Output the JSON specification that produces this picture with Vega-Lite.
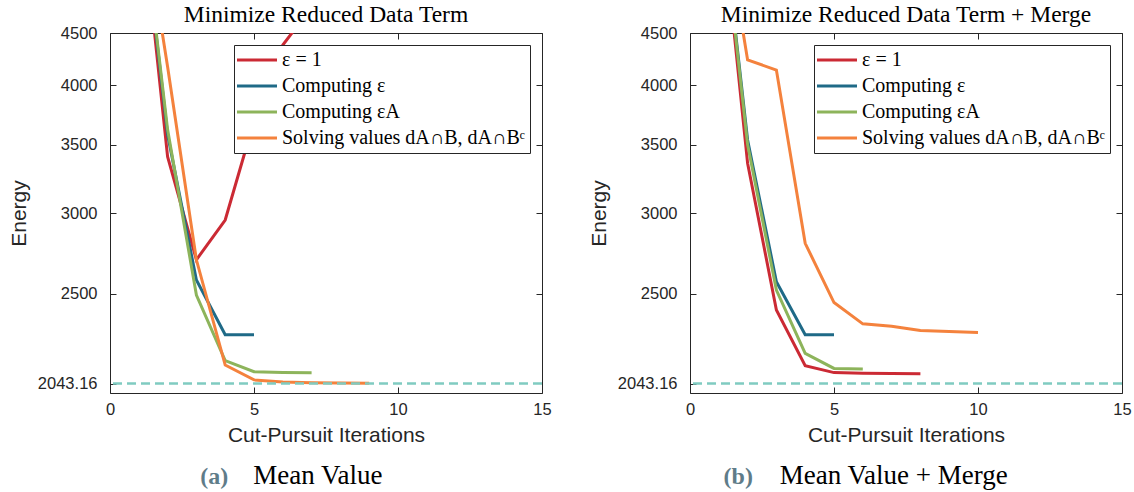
{
  "$schema": "https://vega.github.io/schema/vega-lite/v6.json",
  "padding": {"left": 7, "right": 0, "top": 2, "bottom": 2},
  "spacing": 35,
  "datasets": {
    "lines": [
      {"panel": "a", "series": "ε = 1", "x": 1, "E": 6300},
      {"panel": "a", "series": "ε = 1", "x": 2, "E": 3406},
      {"panel": "a", "series": "ε = 1", "x": 3, "E": 2700},
      {"panel": "a", "series": "ε = 1", "x": 4, "E": 2953},
      {"panel": "a", "series": "ε = 1", "x": 5, "E": 3690},
      {"panel": "a", "series": "ε = 1", "x": 6, "E": 4380},
      {"panel": "a", "series": "ε = 1", "x": 7, "E": 4770},
      {"panel": "a", "series": "Computing ε", "x": 1, "E": 6300},
      {"panel": "a", "series": "Computing ε", "x": 2, "E": 3580},
      {"panel": "a", "series": "Computing ε", "x": 3, "E": 2580},
      {"panel": "a", "series": "Computing ε", "x": 4, "E": 2281},
      {"panel": "a", "series": "Computing ε", "x": 5, "E": 2281},
      {"panel": "a", "series": "Computing εA", "x": 1, "E": 6300},
      {"panel": "a", "series": "Computing εA", "x": 2, "E": 3620},
      {"panel": "a", "series": "Computing εA", "x": 3, "E": 2494},
      {"panel": "a", "series": "Computing εA", "x": 4, "E": 2151},
      {"panel": "a", "series": "Computing εA", "x": 5, "E": 2098},
      {"panel": "a", "series": "Computing εA", "x": 6, "E": 2094},
      {"panel": "a", "series": "Computing εA", "x": 7, "E": 2093},
      {"panel": "a", "series": "Solving values dA∩B, dA∩Bᶜ", "x": 1, "E": 6300},
      {"panel": "a", "series": "Solving values dA∩B, dA∩Bᶜ", "x": 2, "E": 4170},
      {"panel": "a", "series": "Solving values dA∩B, dA∩Bᶜ", "x": 3, "E": 2700},
      {"panel": "a", "series": "Solving values dA∩B, dA∩Bᶜ", "x": 4, "E": 2130},
      {"panel": "a", "series": "Solving values dA∩B, dA∩Bᶜ", "x": 5, "E": 2060},
      {"panel": "a", "series": "Solving values dA∩B, dA∩Bᶜ", "x": 6, "E": 2050},
      {"panel": "a", "series": "Solving values dA∩B, dA∩Bᶜ", "x": 7, "E": 2047},
      {"panel": "a", "series": "Solving values dA∩B, dA∩Bᶜ", "x": 8, "E": 2045},
      {"panel": "a", "series": "Solving values dA∩B, dA∩Bᶜ", "x": 9, "E": 2044},
      {"panel": "b", "series": "ε = 1", "x": 1, "E": 6300},
      {"panel": "b", "series": "ε = 1", "x": 2, "E": 3356},
      {"panel": "b", "series": "ε = 1", "x": 3, "E": 2411},
      {"panel": "b", "series": "ε = 1", "x": 4, "E": 2127},
      {"panel": "b", "series": "ε = 1", "x": 5, "E": 2094},
      {"panel": "b", "series": "ε = 1", "x": 6, "E": 2091},
      {"panel": "b", "series": "ε = 1", "x": 7, "E": 2090},
      {"panel": "b", "series": "ε = 1", "x": 8, "E": 2089},
      {"panel": "b", "series": "Computing ε", "x": 1, "E": 6300},
      {"panel": "b", "series": "Computing ε", "x": 2, "E": 3536},
      {"panel": "b", "series": "Computing ε", "x": 3, "E": 2570},
      {"panel": "b", "series": "Computing ε", "x": 4, "E": 2281},
      {"panel": "b", "series": "Computing ε", "x": 5, "E": 2281},
      {"panel": "b", "series": "Computing εA", "x": 1, "E": 6300},
      {"panel": "b", "series": "Computing εA", "x": 2, "E": 3500},
      {"panel": "b", "series": "Computing εA", "x": 3, "E": 2522},
      {"panel": "b", "series": "Computing εA", "x": 4, "E": 2187},
      {"panel": "b", "series": "Computing εA", "x": 5, "E": 2114},
      {"panel": "b", "series": "Computing εA", "x": 6, "E": 2111},
      {"panel": "b", "series": "Solving values dA∩B, dA∩Bᶜ", "x": 1, "E": 6300},
      {"panel": "b", "series": "Solving values dA∩B, dA∩Bᶜ", "x": 2, "E": 4235},
      {"panel": "b", "series": "Solving values dA∩B, dA∩Bᶜ", "x": 3, "E": 4140},
      {"panel": "b", "series": "Solving values dA∩B, dA∩Bᶜ", "x": 4, "E": 2802},
      {"panel": "b", "series": "Solving values dA∩B, dA∩Bᶜ", "x": 5, "E": 2452},
      {"panel": "b", "series": "Solving values dA∩B, dA∩Bᶜ", "x": 6, "E": 2337},
      {"panel": "b", "series": "Solving values dA∩B, dA∩Bᶜ", "x": 7, "E": 2325},
      {"panel": "b", "series": "Solving values dA∩B, dA∩Bᶜ", "x": 8, "E": 2302},
      {"panel": "b", "series": "Solving values dA∩B, dA∩Bᶜ", "x": 9, "E": 2297},
      {"panel": "b", "series": "Solving values dA∩B, dA∩Bᶜ", "x": 10, "E": 2292}
    ],
    "ref": [{"E": 2043.16}],
    "xt": [{"x": 0}, {"x": 15}]
  },
  "resolve": {"legend": {"color": "independent"}},
  "hconcat": [
    {
      "title": {"text": "Mean Value", "orient": "bottom", "anchor": "middle", "dx": 38, "dy": -26.5, "offset": 0, "fontSize": 27},
      "resolve": {"legend": {"color": "independent"}},
      "vconcat": [
        {
          "title": {"text": "(a)", "orient": "bottom", "anchor": "middle", "dx": -65.5, "offset": 19, "fontSize": 24, "fontWeight": "bold", "color": "#5f7c89"},
          "resolve": {"legend": {"color": "independent"}},
          "vconcat": [
            {
              "title": {"text": "Minimize Reduced Data Term", "offset": -1},
              "width": 432,
              "height": 360,
              "layer": [
                {
                  "data": {"name": "lines"},
                  "transform": [{"filter": "datum.panel == 'a'"}],
                  "mark": {"type": "line", "strokeWidth": 3, "clip": true},
                  "encoding": {
                    "x": {"field": "x", "type": "quantitative", "scale": {"domain": [0, 15], "nice": false}, "axis": {"orient": "bottom", "labels": true, "labelFlush": false, "values": [0, 5, 10, 15], "title": "Cut-Pursuit Iterations", "labelPadding": 14, "titlePadding": 7}},
                    "y": {"field": "E", "type": "quantitative", "scale": {"type": "log", "domain": [2000, 4500], "nice": false}, "axis": {"orient": "left", "labels": true, "labelFlush": false, "values": [2043.16, 2500, 3000, 3500, 4000, 4500], "labelExpr": "'' + datum.value", "title": "Energy", "labelPadding": 19, "titlePadding": 8}},
                    "color": {"field": "series", "type": "nominal", "scale": {"domain": ["ε = 1", "Computing ε", "Computing εA", "Solving values dA∩B, dA∩Bᶜ"], "range": ["#cb2a34", "#1f6a87", "#8db45b", "#f4823d"]}, "legend": {"orient": "top-right", "offset": 12, "title": null}}
                  }
                },
                {
                  "data": {"name": "ref"},
                  "mark": {"type": "rule", "strokeDash": [9, 5], "strokeWidth": 2.5, "color": "#80cbc1"},
                  "encoding": {"y": {"field": "E", "type": "quantitative", "axis": {"orient": "right", "labels": false, "title": null, "values": [2500, 3000, 3500, 4000, 4500]}}}
                },
                {
                  "data": {"name": "xt"},
                  "mark": {"type": "rule", "strokeOpacity": 0, "strokeWidth": 1},
                  "encoding": {"x": {"field": "x", "type": "quantitative", "axis": {"orient": "top", "labels": false, "title": null, "values": [0, 5, 10, 15]}}}
                }
              ]
            }
          ]
        }
      ]
    },
    {
      "title": {"text": "Mean Value + Merge", "orient": "bottom", "anchor": "middle", "dx": 34, "dy": -26.5, "offset": 0, "fontSize": 27},
      "resolve": {"legend": {"color": "independent"}},
      "vconcat": [
        {
          "title": {"text": "(b)", "orient": "bottom", "anchor": "middle", "dx": -121.5, "offset": 19, "fontSize": 24, "fontWeight": "bold", "color": "#5f7c89"},
          "resolve": {"legend": {"color": "independent"}},
          "vconcat": [
            {
              "title": {"text": "Minimize Reduced Data Term + Merge", "offset": -1},
              "width": 432,
              "height": 360,
              "layer": [
                {
                  "data": {"name": "lines"},
                  "transform": [{"filter": "datum.panel == 'b'"}],
                  "mark": {"type": "line", "strokeWidth": 3, "clip": true},
                  "encoding": {
                    "x": {"field": "x", "type": "quantitative", "scale": {"domain": [0, 15], "nice": false}, "axis": {"orient": "bottom", "labels": true, "labelFlush": false, "values": [0, 5, 10, 15], "title": "Cut-Pursuit Iterations", "labelPadding": 14, "titlePadding": 7}},
                    "y": {"field": "E", "type": "quantitative", "scale": {"type": "log", "domain": [2000, 4500], "nice": false}, "axis": {"orient": "left", "labels": true, "labelFlush": false, "values": [2043.16, 2500, 3000, 3500, 4000, 4500], "labelExpr": "'' + datum.value", "title": "Energy", "labelPadding": 19, "titlePadding": 8}},
                    "color": {"field": "series", "type": "nominal", "scale": {"domain": ["ε = 1", "Computing ε", "Computing εA", "Solving values dA∩B, dA∩Bᶜ"], "range": ["#cb2a34", "#1f6a87", "#8db45b", "#f4823d"]}, "legend": {"orient": "top-right", "offset": 12, "title": null}}
                  }
                },
                {
                  "data": {"name": "ref"},
                  "mark": {"type": "rule", "strokeDash": [9, 5], "strokeWidth": 2.5, "color": "#80cbc1"},
                  "encoding": {"y": {"field": "E", "type": "quantitative", "axis": {"orient": "right", "labels": false, "title": null, "values": [2500, 3000, 3500, 4000, 4500]}}}
                },
                {
                  "data": {"name": "xt"},
                  "mark": {"type": "rule", "strokeOpacity": 0, "strokeWidth": 1},
                  "encoding": {"x": {"field": "x", "type": "quantitative", "axis": {"orient": "top", "labels": false, "title": null, "values": [0, 5, 10, 15]}}}
                }
              ]
            }
          ]
        }
      ]
    }
  ],
  "config": {
    "view": {"stroke": "#262626", "strokeWidth": 1},
    "axis": {"domain": false, "grid": false, "ticks": true, "tickColor": "#262626", "tickSize": -6, "tickWidth": 1, "labelFont": "Liberation Sans", "labelFontSize": 16.5, "labelColor": "#262626", "titleFont": "Liberation Sans", "titleFontSize": 21, "titleFontWeight": "normal", "titleColor": "#262626"},
    "title": {"font": "Liberation Serif", "fontSize": 23.5, "fontWeight": "normal", "color": "#000000"},
    "legend": {"padding": 5, "strokeColor": "#262626", "fillColor": "#ffffff", "cornerRadius": 0, "symbolType": "M-4,0H4", "symbolSize": 100, "symbolStrokeWidth": 3, "symbolOffset": 8, "labelOffset": 15, "rowPadding": 6, "labelFont": "Liberation Serif", "labelFontSize": 20, "labelColor": "#000000", "labelLimit": 400}
  }
}
